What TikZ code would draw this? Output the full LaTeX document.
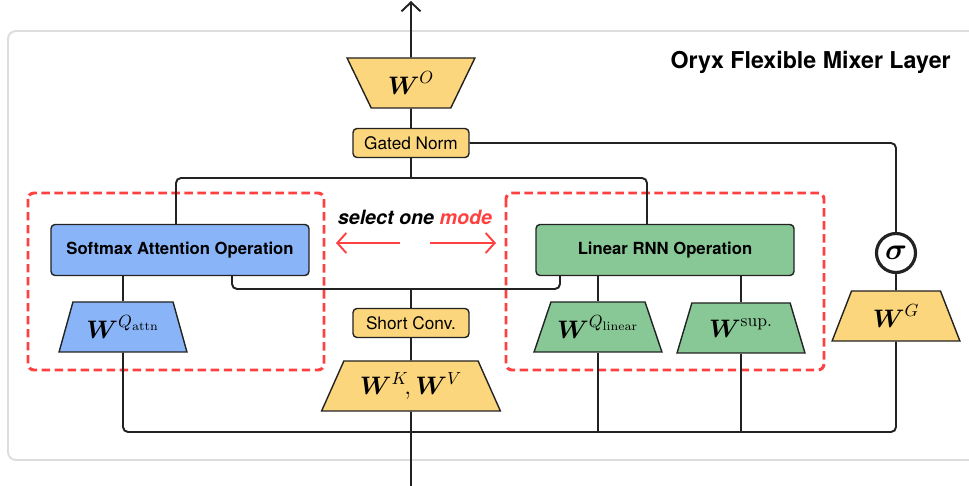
\documentclass[tikz,border=0pt]{standalone}
\usepackage{amsmath}
\usepackage[no-math]{fontspec}
\setmainfont{TeX Gyre Heros}
\usetikzlibrary{shapes.geometric,arrows.meta,positioning}
\definecolor{wyellow}{RGB}{252,214,125}
\definecolor{attnblue}{RGB}{138,180,248}
\definecolor{rnngreen}{RGB}{136,200,150}
\definecolor{modered}{RGB}{255,64,64}
\definecolor{framegrey}{RGB}{221,221,221}
\definecolor{wireblack}{RGB}{34,34,34}

\begin{document}
\begin{tikzpicture}[x=0.2mm,y=-0.2mm,
    wire/.style={line width=1.1pt, draw=wireblack, rounded corners=1mm},
    smallbox/.style={draw=wireblack, line width=0.8pt, fill=wyellow, rounded corners=0.8mm,
        minimum width=23.2mm, minimum height=5.8mm, font=\fontsize{9.8}{11}\selectfont},
    opbox/.style={draw=wireblack, line width=0.8pt, rounded corners=0.8mm,
        minimum width=51.6mm, minimum height=10.2mm, font=\fontsize{9.5}{11}\selectfont\bfseries},
    proj/.style={trapezium, trapezium stretches=true, draw=wireblack, line width=0.8pt,
        minimum width=25.6mm, minimum height=10mm, inner sep=0pt,
        font=\fontsize{14}{16}\selectfont},
    modebox/.style={draw=modered, line width=1.7pt, dash pattern=on 4.8pt off 2.6pt, rounded corners=1.2mm},
    modearrow/.style={draw=modered, line width=1.1pt, -{Straight Barb[length=1.8mm,width=4mm]}},
    >={Straight Barb[length=1.8mm,width=3.8mm]}]

\clip (0,0) rectangle (969,486);

% layer frame
\draw[framegrey, line width=1.1pt, rounded corners=1.6mm] (8,31) rectangle (1010,460);
\node[anchor=east, inner sep=0pt, font=\fontsize{13.2}{15}\selectfont\bfseries] (title) at (951,62) {Oryx Flexible Mixer Layer};

% output side
\node[proj, fill=wyellow, shape border rotate=180, trapezium angle=58] (wo) at (411,83) {$\boldsymbol{W}^{O}$};
\node[smallbox] (gnorm) at (411,143) {Gated Norm};

% the two modes
\node[opbox, fill=attnblue] (sa) at (180,250) {Softmax Attention Operation};
\node[opbox, fill=rnngreen] (rnn) at (665,250) {Linear RNN Operation};
\node[proj, fill=attnblue, trapezium angle=65.8] (wqa) at (123,327) {$\boldsymbol{W}^{Q_{\mathrm{attn}}}$};
\node[proj, fill=rnngreen, trapezium angle=57] (wql) at (598,327) {$\boldsymbol{W}^{Q_{\mathrm{linear}}}$};
\node[proj, fill=rnngreen, trapezium angle=62] (wsup) at (741,328) {$\boldsymbol{W}^{\mathrm{sup.}}$};

\draw[modebox] (28,193) rectangle (324,370);
\draw[modebox] (506,193) rectangle (824,370);
\node[font=\fontsize{11.2}{13}\selectfont\bfseries\itshape] (sel) at (415,217) {select one \textcolor{modered}{mode}};
\coordinate (la) at (400,243);
\coordinate (lb) at (336,243);
\coordinate (ra) at (430,243);
\coordinate (rb) at (496,243);
\draw[modearrow] (la) -- (lb);
\draw[modearrow] (ra) -- (rb);

% shared key/value path
\node[smallbox] (sconv) at (411,323) {Short Conv.};
\node[proj, fill=wyellow, minimum width=36mm, trapezium angle=58.3] (wkv) at (411,386) {$\boldsymbol{W}^{K}\!,\boldsymbol{W}^{V}$};

% gate
\node[circle, draw=wireblack, line width=1.8pt, minimum size=7.8mm, inner sep=0pt, fill=white,
    font=\fontsize{17}{18}\selectfont] (sig) at (896,253) {$\boldsymbol{\sigma}$};
\node[proj, fill=wyellow, trapezium angle=65.8] (wg) at (896,316) {$\boldsymbol{W}^{G}$};

% connections
\coordinate (out) at (411,1);
\coordinate (in) at (411,486);
\coordinate (split) at (411,178);
\coordinate (merge) at (411,289);
\coordinate (bus) at (411,432);

\draw[wire,->] (wo.north) -- (out);
\draw[wire] (gnorm.north) -- (wo.south);
\draw[wire] (gnorm.east) -| (sig.north);
\draw[wire] (sig.south) -- (wg.north);
\draw[wire] (gnorm.south) -- (split);
\draw[wire] ([xshift=-0.8mm]sa.north) |- (split) -| ([xshift=-3.6mm]rnn.north);
\draw[wire] ([xshift=10.4mm]sa.south) |- (merge) -| ([xshift=-21mm]rnn.south);
\draw[wire] (sconv.north) -- (merge);
\draw[wire] (wqa.north) -- (wqa.north |- sa.south);
\draw[wire] (wql.north) -- (wql.north |- rnn.south);
\draw[wire] (wsup.north) -- (wsup.north |- rnn.south);
\draw[wire] (wkv.north) -- (sconv.south);
\draw[wire] (in) -- (wkv.south);
\draw[wire] (wqa.south) |- (bus) -| (wg.south);
\draw[wire] (wql.south) -- (wql.south |- bus);
\draw[wire] (wsup.south) -- (wsup.south |- bus);

\end{tikzpicture}
\end{document}
